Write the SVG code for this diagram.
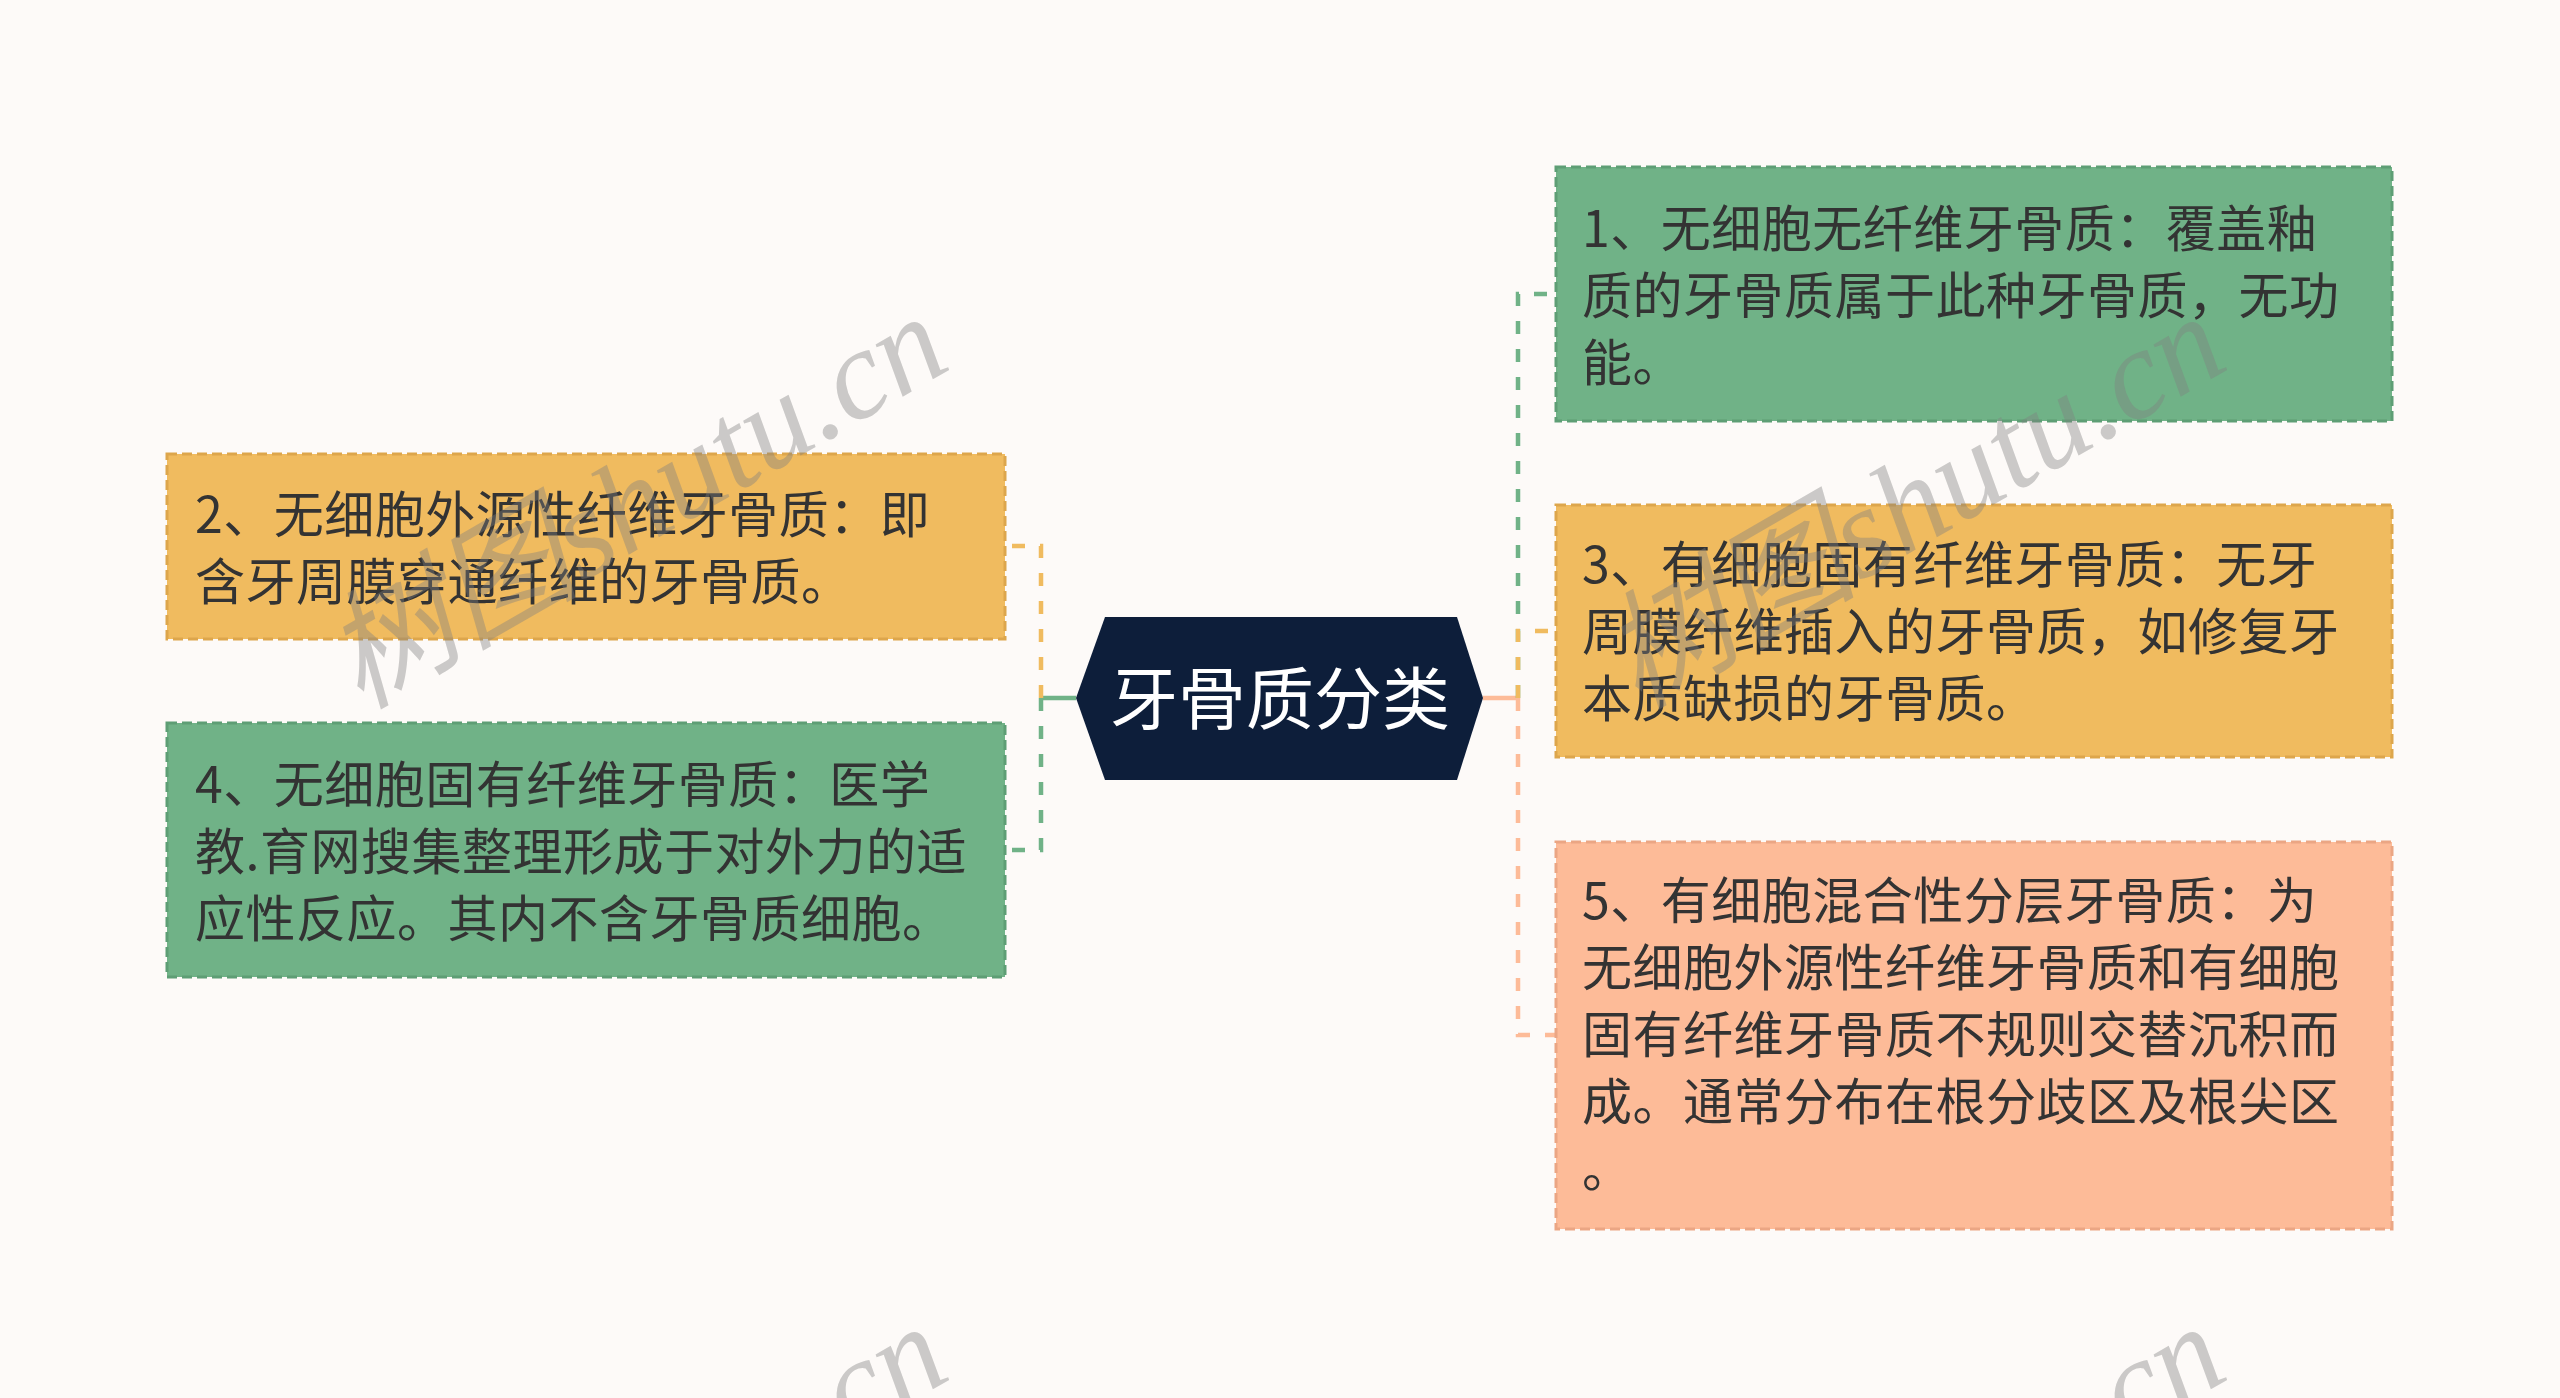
<svg xmlns="http://www.w3.org/2000/svg" width="2560" height="1398" viewBox="0 0 2560 1398">
<style>
.bg{fill:#FDFAF8}
.box{stroke-width:3;stroke-dasharray:10 5}
.g{fill:#70B287;stroke:#5E9E75}
.o{fill:#F0BB5F;stroke:#DDA64C}
.s{fill:#FDBB98;stroke:#EBA684}
.t{font-family:"Noto Sans CJK SC","Noto Sans",sans-serif;font-size:50px;letter-spacing:0.5px;fill:#333333}
.rt{font-family:"Noto Sans CJK SC","Noto Sans",sans-serif;font-size:68px;fill:#FFFFFF}
.c{fill:none;stroke-width:4.5;stroke-dasharray:13 15}
.cg{stroke:#70B287}
.co{stroke:#F0BB5F}
.cs{stroke:#FDBB98}
.wm{font-family:"Liberation Serif","Noto Sans CJK SC",serif;font-style:italic;font-size:128px;fill:#808080;fill-opacity:0.4}
</style>
<rect class="bg" x="0" y="0" width="2560" height="1398"/>
<g id="connectors">
<line x1="1076" y1="698" x2="1041" y2="698" stroke="#70B287" stroke-width="4.5"/>
<path class="c co" d="M1041,698 V546 H1005"/>
<path class="c cg" d="M1041,698 V850 H1005"/>
<line x1="1483" y1="698" x2="1518" y2="698" stroke="#FDBB98" stroke-width="4.5"/>
<path class="c cg" d="M1518,698 V294 H1556"/>
<path class="c co" d="M1518,698 V631 H1556"/>
<path class="c cs" d="M1518,698 V1035 H1556"/>
</g>
<g id="root">
<polygon points="1105,617 1457,617 1483,698 1457,780 1105,780 1076,698" fill="#0D1E3A"/>
<text class="rt" x="1280" y="724" text-anchor="middle">牙骨质分类</text>
</g>
<g id="node1">
<rect class="box g" x="1556" y="167" width="836" height="254"/>
<text class="t" x="1582" y="247">1、无细胞无纤维牙骨质：覆盖釉</text>
<text class="t" x="1582" y="314">质的牙骨质属于此种牙骨质，无功</text>
<text class="t" x="1582" y="381">能。</text>
</g>
<g id="node2">
<rect class="box o" x="167" y="454" width="838" height="185"/>
<text class="t" x="195" y="533">2、无细胞外源性纤维牙骨质：即</text>
<text class="t" x="195" y="600">含牙周膜穿通纤维的牙骨质。</text>
</g>
<g id="node3">
<rect class="box o" x="1556" y="505" width="836" height="252"/>
<text class="t" x="1582" y="583">3、有细胞固有纤维牙骨质：无牙</text>
<text class="t" x="1582" y="650">周膜纤维插入的牙骨质，如修复牙</text>
<text class="t" x="1582" y="717">本质缺损的牙骨质。</text>
</g>
<g id="node4">
<rect class="box g" x="167" y="723" width="838" height="254"/>
<text class="t" x="195" y="803">4、无细胞固有纤维牙骨质：医学</text>
<text class="t" x="195" y="870">教.育网搜集整理形成于对外力的适</text>
<text class="t" x="195" y="937">应性反应。其内不含牙骨质细胞。</text>
</g>
<g id="node5">
<rect class="box s" x="1556" y="842" width="836" height="387"/>
<text class="t" x="1582" y="919">5、有细胞混合性分层牙骨质：为</text>
<text class="t" x="1582" y="986">无细胞外源性纤维牙骨质和有细胞</text>
<text class="t" x="1582" y="1053">固有纤维牙骨质不规则交替沉积而</text>
<text class="t" x="1582" y="1120">成。通常分布在根分歧区及根尖区</text>
<text class="t" x="1582" y="1187">。</text>
</g>
<g id="watermarks">
<text class="wm" transform="translate(360,710) rotate(-30)">树图shutu.cn</text>
<text class="wm" transform="translate(1638,710) rotate(-30)">树图shutu.cn</text>
<text class="wm" transform="translate(360,1720) rotate(-30)">树图shutu.cn</text>
<text class="wm" transform="translate(1638,1720) rotate(-30)">树图shutu.cn</text>
</g>
</svg>
